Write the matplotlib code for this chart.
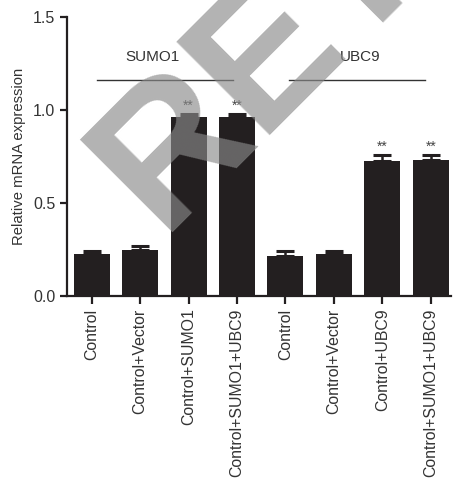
import matplotlib
matplotlib.use("Agg")
import numpy as np
import matplotlib.pyplot as plt
from matplotlib.textpath import TextPath
from matplotlib.font_manager import FontProperties
from matplotlib.transforms import Affine2D

plt.rcParams["font.family"] = ["Liberation Sans", "DejaVu Sans"]

LABELS = ["Control", "Control+Vector", "Control+SUMO1", "Control+SUMO1+UBC9",
          "Control", "Control+Vector", "Control+UBC9", "Control+SUMO1+UBC9"]
VALUES = [0.226, 0.247, 0.963, 0.960, 0.217, 0.226, 0.727, 0.733]
ERRORS = [0.018, 0.023, 0.014, 0.017, 0.023, 0.018, 0.031, 0.025]
STARS = ["", "", "**", "**", "", "", "**", "**"]
GROUPS = [("SUMO1", 0.1, 2.92, 1.26), ("UBC9", 4.08, 6.89, 5.54)]

INK = "#231f20"
W, H, DPI = 454, 479, 100

fig = plt.figure(figsize=(W / DPI, H / DPI), dpi=DPI)
ax = fig.add_axes([0.1476, 0.382, 0.846, 0.5825])

x = list(range(len(VALUES)))
ax.bar(x, VALUES, width=0.745, color=INK, zorder=2)
ax.errorbar(x, VALUES, yerr=[[0] * len(ERRORS), ERRORS], fmt="none",
            ecolor=INK, elinewidth=1.8, capsize=6.5, capthick=2.2, zorder=3)

for xi, v, e, s in zip(x, VALUES, ERRORS, STARS):
    if s:
        ax.text(xi, v + e + 0.008, s, ha="center", va="bottom",
                fontsize=10, color="#444444")

# group headers
for name, x0, x1, xt in GROUPS:
    ax.plot([x0, x1], [1.161, 1.161], color="#333333", lw=1.0, clip_on=False)
    ax.text(xt, 1.245, name, ha="center", va="bottom", fontsize=11, color="#333333")

ax.set_xlim(-0.51, 7.42)
ax.set_ylim(0, 1.5)
ax.set_yticks([0.0, 0.5, 1.0, 1.5])
ax.set_yticklabels(["0.0", "0.5", "1.0", "1.5"])
ax.set_xticks(x)
ax.set_xticklabels(LABELS, rotation=90)
ax.tick_params(axis="both", colors=INK, width=1.6, length=5, labelsize=11.5,
               labelcolor="#333333")
ax.tick_params(axis="x", length=6, pad=3, labelsize=11.4)
ax.set_ylabel("Relative mRNA expression", fontsize=10.7, color="#333333", labelpad=5)

for side in ("top", "right"):
    ax.spines[side].set_visible(False)
for side in ("left", "bottom"):
    ax.spines[side].set_linewidth(1.6)
    ax.spines[side].set_color(INK)

# retraction watermark: place it so the R and E corners sit where they are in the source
WM_SIZE = 138
fp = FontProperties(family="Liberation Sans", weight="bold")
rot = Affine2D().rotate_deg(45)
path = TextPath((0, 0), "RE", size=WM_SIZE * DPI / 72, prop=fp)
pts = rot.transform(path.vertices)
split = 0.76 * WM_SIZE * DPI / 72
r_pts = pts[path.vertices[:, 0] < split]
e_pts = pts[path.vertices[:, 0] >= split]
mine = np.array([r_pts[r_pts[:, 0].argmin()], r_pts[r_pts[:, 1].argmin()],
                 e_pts[e_pts[:, 0].argmin()], e_pts[e_pts[:, 1].argmin()]])
ref = np.array([[79, 140], [175, 237], [178, 43], [273, 139]], dtype=float)
ref[:, 1] = H - ref[:, 1]
off = (ref - mine).mean(axis=0)
off += (-7, 10)  # raster text lands a little lower-right than the outline

fig.text(off[0] / W, off[1] / H, "RETRACTED", rotation=45, rotation_mode="anchor",
         ha="left", va="baseline", fontsize=WM_SIZE, fontweight="bold",
         family="Liberation Sans", color="#8a8a8a", alpha=0.65)

fig.savefig("out.png", dpi=DPI)
